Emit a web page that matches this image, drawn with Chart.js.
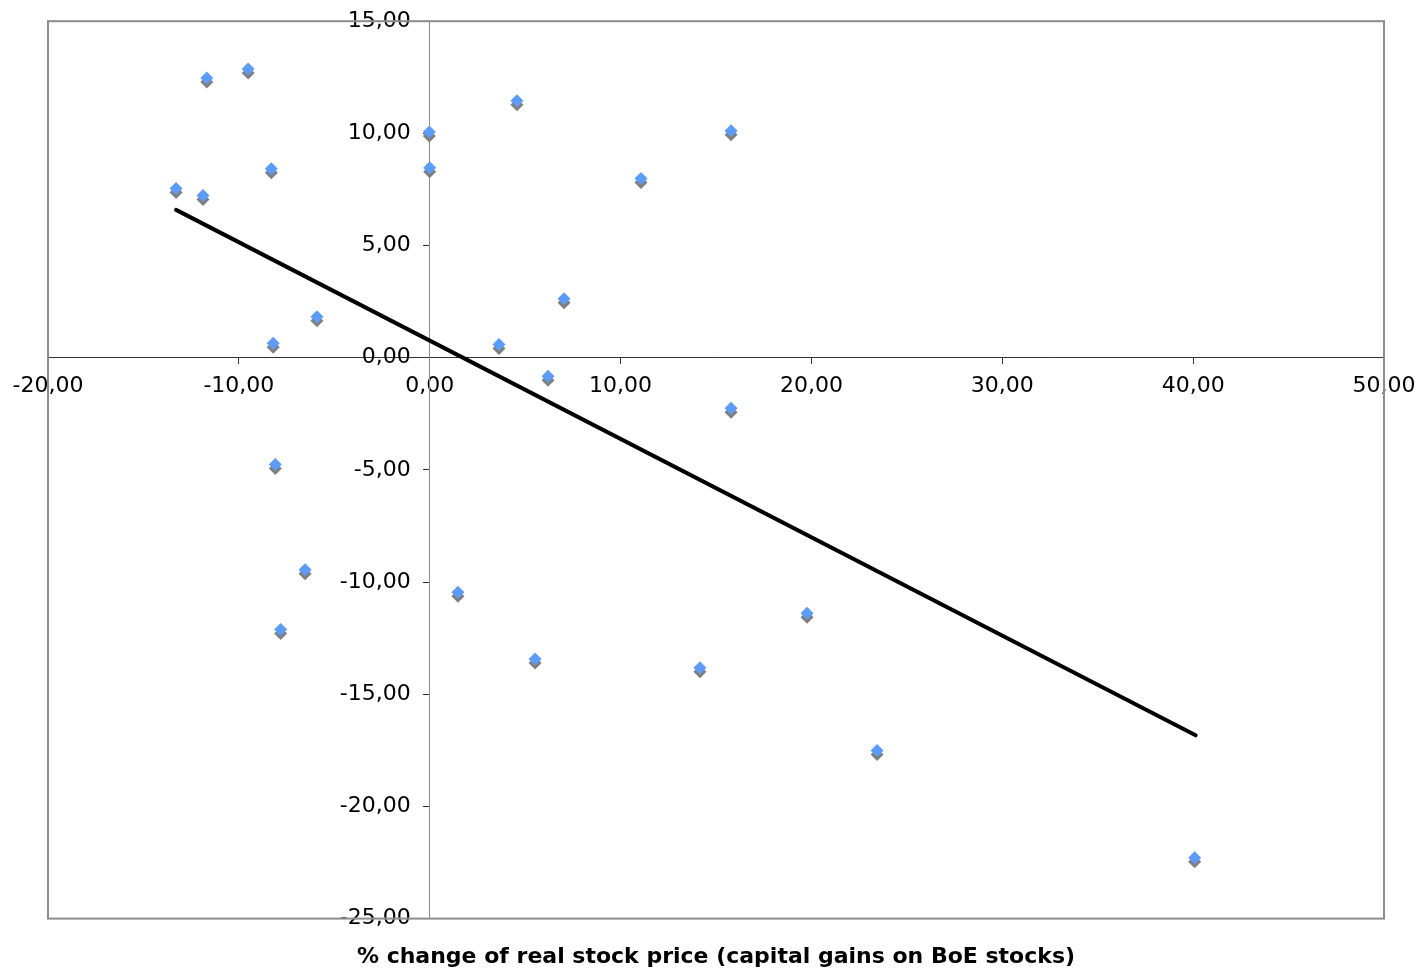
<!DOCTYPE html>
<html>
<head>
<meta charset="utf-8">
<script src="https://cdn.jsdelivr.net/npm/chart.js@4"></script>
<style>
  html, body { margin: 0; padding: 0; background: #ffffff; }
  #wrap { width: 1426px; height: 973px; }
</style>
</head>
<body>
<div id="wrap"><canvas id="c" width="1426" height="973"></canvas></div>
<script>
// Data
const stockChange = [-13.29, -11.68, -9.51, -11.88, -8.30, -8.20, -5.91, -8.09, -6.53, -7.81,
                     -0.02, 0.00, 4.57, 3.63, 7.04, 6.20, 11.07, 15.79, 15.79, 1.48,
                     5.52, 14.16, 19.77, 23.44, 40.08];
const otherVar    = [7.54, 12.47, 12.87, 7.23, 8.42, 0.65, 1.83, -4.76, -9.45, -12.11,
                     10.06, 8.47, 11.45, 0.59, 2.63, -0.83, 7.99, 10.12, -2.25, -10.45,
                     -13.43, -13.82, -11.39, -17.51, -22.29];
const trendX = [-13.29, 40.13];
const trendY = [6.59, -16.83];
const xTicks = [-20, -10, 0, 10, 20, 30, 40, 50];
const yTicks = [15, 10, 5, 0, -5, -10, -15, -20, -25];
const axisTitle = '% change of real stock price (capital gains on BoE stocks)';

const fmt = v => Number(v).toFixed(2).replace('.', ',');

const shadowPlugin = {
  id: 'pointShadow',
  beforeDatasetDraw(chart, args) {
    if (args.index === 0) {
      const ctx = chart.ctx;
      ctx.save();
      ctx.shadowColor = '#7f7f7f';
      ctx.shadowOffsetX = 0;
      ctx.shadowOffsetY = 4;
      ctx.shadowBlur = 0;
    }
  },
  afterDatasetDraw(chart, args) {
    if (args.index === 0) chart.ctx.restore();
  }
};

const framePlugin = {
  id: 'frame',
  beforeDatasetsDraw(chart) {
    const {ctx, chartArea: a} = chart;
    ctx.save();
    ctx.strokeStyle = '#8c8c8c';
    ctx.lineWidth = 2;
    ctx.strokeRect(a.left, a.top, a.right - a.left, a.bottom - a.top);
    ctx.restore();
  }
};

// y labels on a value-positioned axis sit against the axis line; move them left of the tick marks
function shiftYLabels(scale) {
  if (scale._labelShiftWrapped) return;
  const orig = scale._computeLabelItems.bind(scale);
  scale._computeLabelItems = function (ca) {
    return orig(ca).map(it => {
      it.options.translation[0] -= 19;
      return it;
    });
  };
  scale._labelShiftWrapped = true;
}

new Chart(document.getElementById('c'), {
  type: 'scatter',
  data: {
    datasets: [
      {
        label: 'data',
        data: stockChange.map((x, i) => ({x: x, y: otherVar[i]})),
        pointStyle: 'rectRot',
        pointRadius: 6.5,
        pointHoverRadius: 6.5,
        pointBackgroundColor: '#5c9cf8',
        pointBorderColor: '#5c9cf8',
        pointBorderWidth: 0,
        order: 1
      },
      {
        label: 'trend',
        type: 'line',
        data: trendX.map((x, i) => ({x: x, y: trendY[i]})),
        borderColor: '#000000',
        borderWidth: 4,
        borderCapStyle: 'round',
        pointRadius: 0,
        fill: false,
        order: 0
      }
    ]
  },
  options: {
    responsive: false,
    animation: false,
    layout: { padding: { left: 48, right: 42, top: 17, bottom: 0 } },
    plugins: {
      legend: { display: false },
      tooltip: { enabled: false },
      title: {
        display: true,
        position: 'bottom',
        text: axisTitle,
        color: '#000000',
        font: { family: 'DejaVu Sans', size: 22, weight: 'bold' },
        padding: { top: 25, bottom: 3 }
      }
    },
    scales: {
      x: {
        type: 'linear',
        position: { y: 0 },
        min: -20, max: 50,
        afterBuildTicks: s => { s.ticks = xTicks.map(v => ({value: v})); },
        grid: { drawOnChartArea: false, drawTicks: true, tickLength: 6, color: '#333333' },
        border: { display: true, color: '#333333', width: 1 },
        ticks: {
          callback: v => fmt(v),
          color: '#000000',
          padding: 9,
          maxRotation: 0,
          autoSkip: false,
          font: { family: 'DejaVu Sans', size: 22 }
        }
      },
      y: {
        type: 'linear',
        position: { x: 0 },
        min: -25, max: 15,
        afterBuildTicks: s => { s.ticks = yTicks.map(v => ({value: v})); },
        afterUpdate: shiftYLabels,
        grid: { drawOnChartArea: false, drawTicks: true, tickLength: 6, color: '#333333' },
        border: { display: true, color: '#8c8c8c', width: 1 },
        ticks: {
          callback: v => fmt(v),
          color: '#000000',
          padding: 8,
          autoSkip: false,
          font: { family: 'DejaVu Sans', size: 22 }
        }
      }
    }
  },
  plugins: [framePlugin, shadowPlugin]
});
</script>
</body>
</html>
